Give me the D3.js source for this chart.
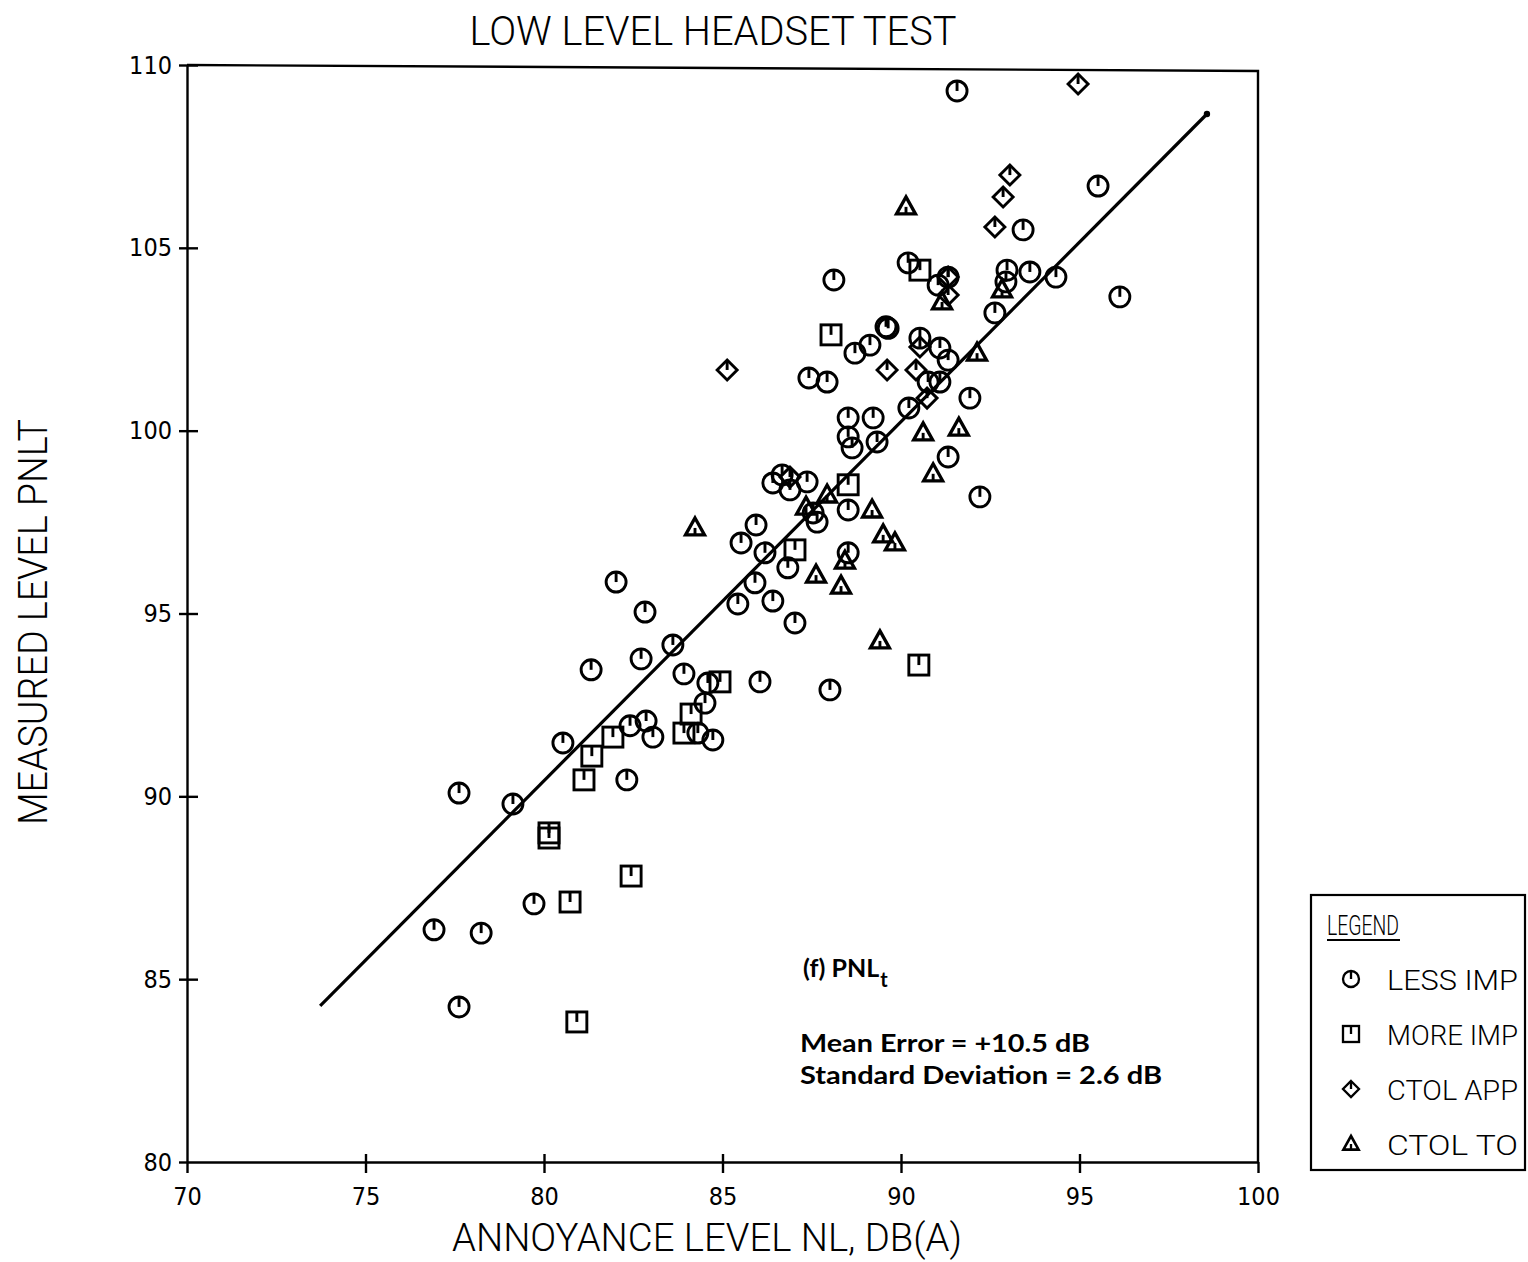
<!DOCTYPE html>
<html>
<head>
<meta charset="utf-8">
<script src="https://cdn.jsdelivr.net/npm/d3@7/dist/d3.min.js"></script>
<style>
  body { margin: 0; background: #fff; }
  svg text { fill: #000; }
  .plotter { font-family: "Roboto", "DejaVu Sans Condensed", sans-serif; font-weight: 300; }
  .ticks { font-family: "DejaVu Sans Condensed", "DejaVu Sans", sans-serif; }
  .note { font-family: "Lato", "Noto Sans", sans-serif; font-weight: 700; }
</style>
</head>
<body>
<svg id="chart" width="1528" height="1262"></svg>
<script>
// LESS IMP (circles)
const lessImpNL = [77.62, 79.13, 76.92, 78.24, 77.62, 79.72, 80.53, 81.32, 82.02, 82.83, 82.72, 82.32, 82.41, 82.86, 83.05,
  83.61, 83.92, 84.31, 84.51, 84.59, 84.73, 85.43, 85.52, 85.94, 85.91, 86.19, 86.41, 86.05, 87.03, 86.83,
  86.41, 86.67, 86.89, 87.37, 87.54, 87.65, 88.52, 88.52, 88.01, 91.32, 91.57, 93.42, 95.52, 90.20, 88.12,
  91.04, 91.32, 92.97, 92.94, 93.61, 94.34, 92.63, 91.32, 91.09, 91.93, 90.22, 90.76, 91.09, 87.42, 87.93,
  88.71, 89.13, 89.58, 89.64, 90.53, 88.52, 89.22, 88.52, 88.63, 89.33, 96.13, 92.21];
const lessImpPNLT = [90.09, 89.79, 86.35, 86.26, 84.24, 87.06, 91.46, 93.46, 95.86, 95.04, 93.76, 90.45, 91.93, 92.06, 91.62,
  94.14, 93.35, 91.73, 92.55, 93.10, 91.54, 95.26, 96.93, 97.42, 95.84, 96.66, 95.34, 93.13, 94.74, 96.25,
  98.57, 98.79, 98.38, 98.60, 97.75, 97.50, 97.83, 96.66, 92.91, 99.28, 109.29, 105.49, 106.69, 104.59, 104.12,
  103.98, 104.20, 104.39, 104.07, 104.34, 104.20, 103.22, 101.93, 102.26, 100.89, 100.62, 101.33, 101.33, 101.44, 101.33,
  102.12, 102.34, 102.84, 102.80, 102.53, 100.35, 100.35, 99.83, 99.53, 99.69, 103.66, 98.19];

// MORE IMP (squares)
const moreImpNL = [88.52, 87.03, 90.50, 84.93, 84.12, 83.92, 81.93, 81.34, 81.12, 80.14, 80.14, 80.73, 82.44, 80.92, 88.04, 90.53];
const moreImpPNLT = [98.52, 96.74, 93.59, 93.13, 92.25, 91.73, 91.62, 91.10, 90.45, 89.00, 88.86, 87.11, 87.82, 83.83, 102.62, 104.39];

// CTOL APP (diamonds)
const ctolAppNL = [94.96, 93.05, 92.86, 92.63, 91.32, 91.32, 90.53, 89.61, 90.42, 90.73, 85.13, 86.89];
const ctolAppPNLT = [109.48, 106.99, 106.39, 105.57, 104.20, 103.71, 102.29, 101.66, 101.66, 100.89, 101.66, 98.73];

// CTOL TO (triangles)
const ctolToNL = [90.14, 91.15, 92.83, 92.13, 90.62, 91.62, 90.90, 87.93, 87.34, 89.19, 84.23, 89.50, 89.83, 88.43, 87.62, 88.32, 89.41];
const ctolToPNLT = [106.12, 103.52, 103.85, 102.12, 99.94, 100.07, 98.82, 98.24, 97.91, 97.83, 97.34, 97.15, 96.93, 96.43, 96.05, 95.75, 94.25];

// fitted line end points
const fitNL = [73.73, 98.57];
const fitPNLT = [84.27, 108.66];

const xTicks = [70, 75, 80, 85, 90, 95, 100];
const yTicks = [80, 85, 90, 95, 100, 105, 110];

const seriesNames = ['LESS IMP', 'MORE IMP', 'CTOL APP', 'CTOL TO'];
const seriesShapes = ['circle', 'square', 'diamond', 'triangle'];

const svg = d3.select('#chart');

let x = d3.scaleLinear().domain([70, 100]).range([187, 1258]);
let y = d3.scaleLinear().domain([80, 110]).range([1162, 65]);

// marker drawing, each marker has the little tick mark inside
const drawMarker = (g, shape) => {
  g.attr('fill', 'none').attr('stroke', '#000').attr('stroke-width', 2.9);
  if (shape === 'circle') {
    g.append('circle').attr('r', 10);
    g.append('line').attr('x1', 0).attr('x2', 0).attr('y1', -10).attr('y2', 0);
  } else if (shape === 'square') {
    g.append('rect').attr('x', -10).attr('y', -10).attr('width', 20).attr('height', 20);
    g.append('line').attr('x1', 0).attr('x2', 0).attr('y1', -10).attr('y2', 0);
  } else if (shape === 'diamond') {
    g.append('path').attr('d', 'M0,-10L10,0L0,10L-10,0Z');
    g.append('line').attr('x1', 0).attr('x2', 0).attr('y1', -10).attr('y2', 0);
  } else {
    g.append('path').attr('d', 'M0,-10L9.5,7L-9.5,7Z').attr('stroke-width', 3.3);
    g.append('line').attr('x1', 0).attr('x2', 0).attr('y1', 7).attr('y2', 0);
  }
};

// frame: top and right sides
svg.append('path')
  .attr('d', 'M' + x(70) + ',' + y(110) + 'L' + x(100) + ',' + (y(110) + 6) + 'L' + x(100) + ',' + y(80))
  .attr('fill', 'none').attr('stroke', '#000').attr('stroke-width', 2.4);

// axes
let xAxis = svg.append('g')
  .attr('class', 'ticks')
  .attr('transform', 'translate(0,' + y(80) + ')')
  .call(d3.axisBottom(x).tickValues(xTicks).tickSize(11).tickSizeOuter(0).tickPadding(14).tickFormat(d3.format('d')));
xAxis.selectAll('.tick').filter(d => d !== 100 && d !== 70)
  .append('line').attr('y1', 0).attr('y2', -8).attr('stroke', '#000');

let yAxis = svg.append('g')
  .attr('class', 'ticks')
  .attr('transform', 'translate(' + x(70) + ',0)')
  .call(d3.axisLeft(y).tickValues(yTicks).tickSize(8).tickSizeOuter(0).tickPadding(7).tickFormat(d3.format('d')));
yAxis.selectAll('.tick').filter(d => d !== 80)
  .append('line').attr('x1', 0).attr('x2', 11).attr('stroke', '#000');

svg.selectAll('.domain, .tick line').attr('stroke', '#000').attr('stroke-width', 2.4);
xAxis.selectAll('.tick text').style('font-size', '25px').attr('dy', '0.71em');
yAxis.selectAll('.tick text').style('font-size', '25px');

// titles
svg.append('text').attr('class', 'plotter')
  .attr('x', 713).attr('y', 45).attr('text-anchor', 'middle')
  .style('font-size', '40px')
  .attr('textLength', 487).attr('lengthAdjust', 'spacingAndGlyphs')
  .text('LOW LEVEL HEADSET TEST');

svg.append('text').attr('class', 'plotter')
  .attr('x', 707).attr('y', 1251).attr('text-anchor', 'middle')
  .style('font-size', '38px')
  .attr('textLength', 510).attr('lengthAdjust', 'spacingAndGlyphs')
  .text('ANNOYANCE LEVEL NL, DB(A)');

svg.append('text').attr('class', 'plotter')
  .attr('transform', 'translate(47,622) rotate(-90)')
  .attr('text-anchor', 'middle')
  .style('font-size', '40px')
  .attr('textLength', 406).attr('lengthAdjust', 'spacingAndGlyphs')
  .text('MEASURED LEVEL PNLT');

// fitted line
svg.append('path')
  .datum(d3.zip(fitNL, fitPNLT))
  .attr('d', d3.line().x(d => x(d[0])).y(d => y(d[1])))
  .attr('fill', 'none').attr('stroke', '#000').attr('stroke-width', 3.2);
svg.append('circle')
  .attr('cx', x(fitNL[1])).attr('cy', y(fitPNLT[1])).attr('r', 3.2).attr('fill', '#000');

// points
const series = [
  d3.zip(lessImpNL, lessImpPNLT),
  d3.zip(moreImpNL, moreImpPNLT),
  d3.zip(ctolAppNL, ctolAppPNLT),
  d3.zip(ctolToNL, ctolToPNLT)
];

series.forEach((pts, i) => {
  svg.append('g').attr('class', 'series')
    .selectAll('g')
    .data(pts)
    .enter()
    .append('g')
    .attr('transform', d => 'translate(' + x(d[0]) + ',' + y(d[1]) + ')')
    .each(function() { drawMarker(d3.select(this), seriesShapes[i]); });
});

// annotation
let note = svg.append('text').attr('class', 'note')
  .attr('x', 803).attr('y', 977).style('font-size', '25px');
note.append('tspan').text('(f)  PNL');
note.append('tspan').attr('dy', 10).attr('dx', 1).style('font-size', '20px').text('t');

svg.append('text').attr('class', 'note')
  .attr('x', 800).attr('y', 1052).style('font-size', '25px')
  .attr('textLength', 290).attr('lengthAdjust', 'spacingAndGlyphs')
  .text('Mean Error = +10.5 dB');
svg.append('text').attr('class', 'note')
  .attr('x', 800).attr('y', 1084).style('font-size', '25px')
  .attr('textLength', 362).attr('lengthAdjust', 'spacingAndGlyphs')
  .text('Standard Deviation = 2.6 dB');

// legend
let legend = svg.append('g').attr('transform', 'translate(1311,895)');
legend.append('rect')
  .attr('width', 214).attr('height', 275)
  .attr('fill', 'none').attr('stroke', '#000').attr('stroke-width', 2.2);
legend.append('text').attr('class', 'plotter')
  .attr('x', 16).attr('y', 40).style('font-size', '28px')
  .attr('textLength', 72).attr('lengthAdjust', 'spacingAndGlyphs')
  .text('LEGEND');
legend.append('line')
  .attr('x1', 16).attr('x2', 89).attr('y1', 45).attr('y2', 45)
  .attr('stroke', '#000').attr('stroke-width', 2);

let items = legend.selectAll('g.item')
  .data(seriesNames)
  .enter()
  .append('g')
  .attr('class', 'item')
  .attr('transform', (d, i) => 'translate(0,' + (84 + i * 55) + ')');
items.append('g')
  .attr('transform', 'translate(40,0) scale(0.8)')
  .each(function(d, i) { drawMarker(d3.select(this), seriesShapes[i]); });
items.append('text').attr('class', 'plotter')
  .attr('x', 76).attr('y', 11).style('font-size', '28px')
  .attr('textLength', 131).attr('lengthAdjust', 'spacingAndGlyphs')
  .text(d => d);
</script>
</body>
</html>
